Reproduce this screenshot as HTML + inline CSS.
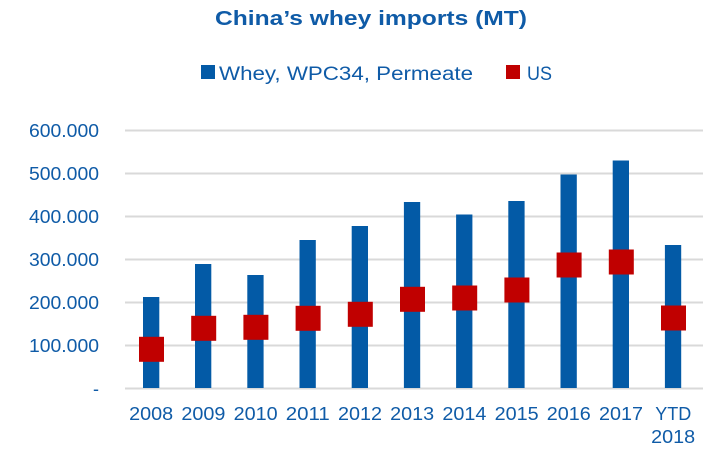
<!DOCTYPE html>
<html><head><meta charset="utf-8"><style>html,body{margin:0;padding:0;background:#fff;}svg{display:block}</style></head>
<body>
<svg width="719" height="470" viewBox="0 0 719 470" xmlns="http://www.w3.org/2000/svg" font-family="Liberation Sans, sans-serif">
<text x="215" y="25" font-size="20" font-weight="bold" fill="#0f5ba7" textLength="312" lengthAdjust="spacingAndGlyphs">China’s whey imports (MT)</text>
<rect x="201" y="65" width="14" height="14" fill="#035aa6"/>
<text x="219" y="80" font-size="19" fill="#0f5ba7" textLength="254" lengthAdjust="spacingAndGlyphs">Whey, WPC34, Permeate</text>
<rect x="506" y="65" width="14" height="14" fill="#c00000"/>
<text x="527" y="80" font-size="19" fill="#0f5ba7" textLength="25" lengthAdjust="spacingAndGlyphs">US</text>
<g stroke="#d9d9d9" stroke-width="2">
<line x1="125" x2="703" y1="130.5" y2="130.5"/>
<line x1="125" x2="703" y1="173.5" y2="173.5"/>
<line x1="125" x2="703" y1="216.5" y2="216.5"/>
<line x1="125" x2="703" y1="259.5" y2="259.5"/>
<line x1="125" x2="703" y1="302.5" y2="302.5"/>
<line x1="125" x2="703" y1="345.5" y2="345.5"/>
<line x1="125" x2="703" y1="388.5" y2="388.5"/>
</g>
<g font-size="18" fill="#0f5ba7" text-anchor="end">
<text x="99" y="137" textLength="70" lengthAdjust="spacingAndGlyphs">600.000</text>
<text x="99" y="180" textLength="70" lengthAdjust="spacingAndGlyphs">500.000</text>
<text x="99" y="223" textLength="70" lengthAdjust="spacingAndGlyphs">400.000</text>
<text x="99" y="266" textLength="70" lengthAdjust="spacingAndGlyphs">300.000</text>
<text x="99" y="309" textLength="70" lengthAdjust="spacingAndGlyphs">200.000</text>
<text x="99" y="352" textLength="70" lengthAdjust="spacingAndGlyphs">100.000</text>
<text x="99" y="395">-</text>
</g>
<g fill="#035aa6">
<rect x="143" y="297" width="16.3" height="91"/>
<rect x="195" y="264" width="16.3" height="124"/>
<rect x="247.3" y="275" width="16.3" height="113"/>
<rect x="299.5" y="240" width="16.3" height="148"/>
<rect x="351.7" y="226" width="16.3" height="162"/>
<rect x="403.9" y="202" width="16.3" height="186"/>
<rect x="456.1" y="214.5" width="16.3" height="173.5"/>
<rect x="508.3" y="201" width="16.3" height="187"/>
<rect x="560.5" y="174.5" width="16.3" height="213.5"/>
<rect x="612.7" y="160.5" width="16.3" height="227.5"/>
<rect x="664.9" y="245" width="16.3" height="143"/>
</g>
<g fill="#c00000">
<rect x="139" y="336.8" width="25" height="25"/>
<rect x="191.2" y="315.8" width="25" height="25"/>
<rect x="243.4" y="314.8" width="25" height="25"/>
<rect x="295.6" y="305.8" width="25" height="25"/>
<rect x="347.8" y="301.8" width="25" height="25"/>
<rect x="400" y="286.8" width="25" height="25"/>
<rect x="452.2" y="285.5" width="25" height="25"/>
<rect x="504.4" y="277.5" width="25" height="25"/>
<rect x="556.6" y="252.5" width="25" height="25"/>
<rect x="608.8" y="249.5" width="25" height="25"/>
<rect x="661" y="305.5" width="25" height="25"/>
</g>
<g font-size="18" fill="#0f5ba7" text-anchor="middle">
<text x="151.2" y="420" textLength="44" lengthAdjust="spacingAndGlyphs">2008</text>
<text x="203.4" y="420" textLength="44" lengthAdjust="spacingAndGlyphs">2009</text>
<text x="255.6" y="420" textLength="44" lengthAdjust="spacingAndGlyphs">2010</text>
<text x="307.8" y="420" textLength="44" lengthAdjust="spacingAndGlyphs">2011</text>
<text x="360" y="420" textLength="44" lengthAdjust="spacingAndGlyphs">2012</text>
<text x="412.2" y="420" textLength="44" lengthAdjust="spacingAndGlyphs">2013</text>
<text x="464.4" y="420" textLength="44" lengthAdjust="spacingAndGlyphs">2014</text>
<text x="516.6" y="420" textLength="44" lengthAdjust="spacingAndGlyphs">2015</text>
<text x="568.8" y="420" textLength="44" lengthAdjust="spacingAndGlyphs">2016</text>
<text x="621" y="420" textLength="44" lengthAdjust="spacingAndGlyphs">2017</text>
<text x="673.2" y="420" textLength="36" lengthAdjust="spacingAndGlyphs">YTD</text>
<text x="673.2" y="443" textLength="44" lengthAdjust="spacingAndGlyphs">2018</text>
</g>
</svg>
</body></html>
